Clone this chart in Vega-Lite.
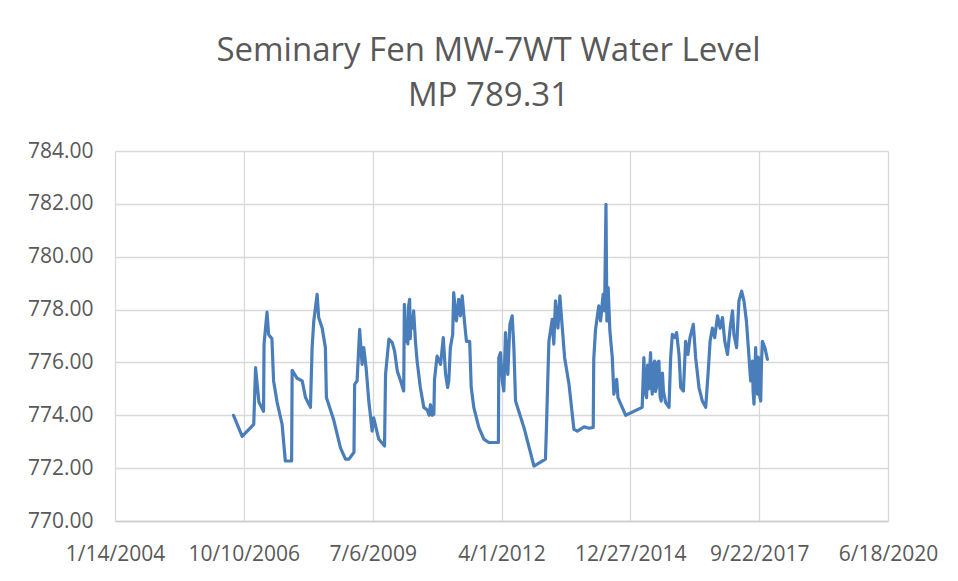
{
  "$schema": "https://vega.github.io/schema/vega-lite/v6.json",
  "width": 773,
  "height": 370,
  "autosize": "none",
  "padding": {"left": 115, "top": 151, "right": 70, "bottom": 60},
  "background": "white",
  "title": {
    "text": ["Seminary Fen MW-7WT Water Level", "MP 789.31"],
    "font": "Open Sans",
    "fontSize": 33,
    "fontWeight": "normal",
    "color": "#595959",
    "lineHeight": 45,
    "anchor": "middle",
    "dx": -13,
    "offset": 27
  },
  "config": {
    "view": {"stroke": null},
    "axis": {
      "labelFont": "Open Sans",
      "labelFontSize": 21,
      "labelColor": "#595959",
      "gridColor": "#d9d9d9",
      "gridWidth": 1.3,
      "ticks": false,
      "title": null
    }
  },
  "data": {
    "values": [
      {"date": "2006-07-22", "level": 774.0},
      {"date": "2006-09-27", "level": 773.2},
      {"date": "2006-12-26", "level": 773.66},
      {"date": "2007-01-09", "level": 775.8},
      {"date": "2007-02-04", "level": 774.5},
      {"date": "2007-03-12", "level": 774.15},
      {"date": "2007-03-16", "level": 776.7},
      {"date": "2007-04-08", "level": 777.9},
      {"date": "2007-04-20", "level": 777.06},
      {"date": "2007-05-16", "level": 776.9},
      {"date": "2007-05-29", "level": 775.3},
      {"date": "2007-06-25", "level": 774.5},
      {"date": "2007-08-03", "level": 773.66},
      {"date": "2007-08-28", "level": 772.27},
      {"date": "2007-10-16", "level": 772.27},
      {"date": "2007-10-20", "level": 775.7},
      {"date": "2007-11-28", "level": 775.4},
      {"date": "2008-01-06", "level": 775.3},
      {"date": "2008-02-01", "level": 774.67},
      {"date": "2008-03-10", "level": 774.3},
      {"date": "2008-03-23", "level": 776.56},
      {"date": "2008-04-05", "level": 777.57},
      {"date": "2008-05-01", "level": 778.58},
      {"date": "2008-05-13", "level": 777.7},
      {"date": "2008-06-09", "level": 777.3},
      {"date": "2008-07-04", "level": 776.56},
      {"date": "2008-07-12", "level": 774.67},
      {"date": "2008-09-08", "level": 773.8},
      {"date": "2008-10-29", "level": 772.77},
      {"date": "2008-12-07", "level": 772.34},
      {"date": "2009-01-03", "level": 772.34},
      {"date": "2009-02-11", "level": 772.6},
      {"date": "2009-02-16", "level": 775.17},
      {"date": "2009-03-07", "level": 775.3},
      {"date": "2009-03-27", "level": 777.25},
      {"date": "2009-04-15", "level": 775.93},
      {"date": "2009-04-28", "level": 776.56},
      {"date": "2009-05-16", "level": 775.8},
      {"date": "2009-06-06", "level": 774.54},
      {"date": "2009-07-02", "level": 773.4},
      {"date": "2009-07-14", "level": 773.9},
      {"date": "2009-08-22", "level": 773.1},
      {"date": "2009-10-06", "level": 772.84},
      {"date": "2009-10-14", "level": 775.55},
      {"date": "2009-11-09", "level": 776.88},
      {"date": "2009-12-05", "level": 776.75},
      {"date": "2009-12-23", "level": 776.43},
      {"date": "2010-01-13", "level": 775.68},
      {"date": "2010-02-08", "level": 775.3},
      {"date": "2010-03-04", "level": 774.92},
      {"date": "2010-03-09", "level": 778.2},
      {"date": "2010-03-21", "level": 776.8},
      {"date": "2010-03-30", "level": 777.13},
      {"date": "2010-04-05", "level": 776.7},
      {"date": "2010-04-10", "level": 778.1},
      {"date": "2010-04-19", "level": 778.39},
      {"date": "2010-04-24", "level": 776.9},
      {"date": "2010-04-29", "level": 777.6},
      {"date": "2010-05-08", "level": 777.3},
      {"date": "2010-05-20", "level": 777.95},
      {"date": "2010-06-03", "level": 776.8},
      {"date": "2010-06-16", "level": 776.05},
      {"date": "2010-07-11", "level": 775.05},
      {"date": "2010-08-07", "level": 774.3},
      {"date": "2010-09-03", "level": 774.2},
      {"date": "2010-09-17", "level": 774.0},
      {"date": "2010-09-28", "level": 774.4},
      {"date": "2010-10-11", "level": 774.0},
      {"date": "2010-10-24", "level": 774.04},
      {"date": "2010-10-29", "level": 775.36},
      {"date": "2010-11-18", "level": 776.24},
      {"date": "2010-12-15", "level": 775.93},
      {"date": "2011-01-05", "level": 776.94},
      {"date": "2011-01-23", "level": 775.55},
      {"date": "2011-02-08", "level": 775.05},
      {"date": "2011-02-17", "level": 775.3},
      {"date": "2011-03-01", "level": 776.56},
      {"date": "2011-03-19", "level": 777.06},
      {"date": "2011-03-27", "level": 778.64},
      {"date": "2011-04-17", "level": 777.57},
      {"date": "2011-05-05", "level": 778.39},
      {"date": "2011-05-18", "level": 777.76},
      {"date": "2011-06-01", "level": 778.52},
      {"date": "2011-06-18", "level": 777.57},
      {"date": "2011-07-04", "level": 776.8},
      {"date": "2011-07-29", "level": 776.8},
      {"date": "2011-08-10", "level": 775.05},
      {"date": "2011-08-30", "level": 774.3},
      {"date": "2011-10-08", "level": 773.54},
      {"date": "2011-11-16", "level": 773.1},
      {"date": "2011-12-24", "level": 772.97},
      {"date": "2012-03-08", "level": 772.97},
      {"date": "2012-03-11", "level": 776.18},
      {"date": "2012-03-24", "level": 776.37},
      {"date": "2012-04-07", "level": 775.3},
      {"date": "2012-04-19", "level": 774.92},
      {"date": "2012-05-02", "level": 777.13},
      {"date": "2012-05-20", "level": 775.55},
      {"date": "2012-06-05", "level": 777.44},
      {"date": "2012-06-23", "level": 777.76},
      {"date": "2012-07-06", "level": 776.56},
      {"date": "2012-07-19", "level": 774.54},
      {"date": "2012-09-22", "level": 773.54},
      {"date": "2012-12-09", "level": 772.08},
      {"date": "2013-03-08", "level": 772.34},
      {"date": "2013-03-16", "level": 773.54},
      {"date": "2013-03-26", "level": 775.3},
      {"date": "2013-04-04", "level": 776.8},
      {"date": "2013-04-30", "level": 777.63},
      {"date": "2013-05-12", "level": 776.69},
      {"date": "2013-05-25", "level": 778.33},
      {"date": "2013-06-13", "level": 777.3},
      {"date": "2013-06-28", "level": 778.52},
      {"date": "2013-07-17", "level": 777.3},
      {"date": "2013-08-04", "level": 776.18},
      {"date": "2013-09-07", "level": 775.17},
      {"date": "2013-10-15", "level": 773.47},
      {"date": "2013-11-11", "level": 773.4},
      {"date": "2014-01-02", "level": 773.56},
      {"date": "2014-02-10", "level": 773.51},
      {"date": "2014-03-14", "level": 773.54},
      {"date": "2014-03-18", "level": 776.12},
      {"date": "2014-04-01", "level": 777.25},
      {"date": "2014-04-26", "level": 778.14},
      {"date": "2014-05-10", "level": 777.57},
      {"date": "2014-05-30", "level": 778.58},
      {"date": "2014-06-10", "level": 777.95},
      {"date": "2014-06-21", "level": 781.98},
      {"date": "2014-06-28", "level": 777.57},
      {"date": "2014-07-08", "level": 778.83},
      {"date": "2014-07-21", "level": 777.2},
      {"date": "2014-08-09", "level": 776.18},
      {"date": "2014-08-21", "level": 774.8},
      {"date": "2014-09-12", "level": 775.36},
      {"date": "2014-09-22", "level": 774.67},
      {"date": "2014-11-21", "level": 774.0},
      {"date": "2015-03-29", "level": 774.3},
      {"date": "2015-04-11", "level": 776.18},
      {"date": "2015-04-20", "level": 774.9},
      {"date": "2015-05-02", "level": 774.67},
      {"date": "2015-05-10", "level": 775.9},
      {"date": "2015-05-19", "level": 775.0},
      {"date": "2015-06-02", "level": 776.37},
      {"date": "2015-06-09", "level": 775.2},
      {"date": "2015-06-15", "level": 774.8},
      {"date": "2015-06-24", "level": 775.9},
      {"date": "2015-07-03", "level": 776.05},
      {"date": "2015-07-10", "level": 774.9},
      {"date": "2015-07-18", "level": 775.05},
      {"date": "2015-07-27", "level": 776.0},
      {"date": "2015-08-06", "level": 776.05},
      {"date": "2015-08-15", "level": 774.7},
      {"date": "2015-08-24", "level": 774.54},
      {"date": "2015-09-02", "level": 775.6},
      {"date": "2015-09-10", "level": 774.92},
      {"date": "2015-09-27", "level": 774.48},
      {"date": "2015-10-23", "level": 774.3},
      {"date": "2015-11-05", "level": 776.18},
      {"date": "2015-11-18", "level": 777.06},
      {"date": "2015-12-06", "level": 776.94},
      {"date": "2015-12-21", "level": 777.13},
      {"date": "2016-01-09", "level": 776.3},
      {"date": "2016-01-22", "level": 775.05},
      {"date": "2016-02-12", "level": 774.92},
      {"date": "2016-02-29", "level": 776.8},
      {"date": "2016-03-18", "level": 776.3},
      {"date": "2016-04-03", "level": 776.94},
      {"date": "2016-04-29", "level": 777.44},
      {"date": "2016-05-17", "level": 776.18},
      {"date": "2016-06-12", "level": 775.05},
      {"date": "2016-07-08", "level": 774.54},
      {"date": "2016-08-03", "level": 774.3},
      {"date": "2016-08-21", "level": 775.55},
      {"date": "2016-09-06", "level": 776.8},
      {"date": "2016-09-24", "level": 777.3},
      {"date": "2016-10-12", "level": 776.94},
      {"date": "2016-11-03", "level": 777.76},
      {"date": "2016-11-23", "level": 777.3},
      {"date": "2016-12-11", "level": 777.7},
      {"date": "2016-12-29", "level": 776.8},
      {"date": "2017-01-19", "level": 776.3},
      {"date": "2017-02-09", "level": 777.3},
      {"date": "2017-02-27", "level": 777.95},
      {"date": "2017-03-10", "level": 777.06},
      {"date": "2017-03-31", "level": 776.56},
      {"date": "2017-04-18", "level": 778.33},
      {"date": "2017-05-09", "level": 778.7},
      {"date": "2017-05-27", "level": 778.33},
      {"date": "2017-06-15", "level": 777.57},
      {"date": "2017-06-30", "level": 776.56},
      {"date": "2017-07-18", "level": 775.3},
      {"date": "2017-08-01", "level": 776.05},
      {"date": "2017-08-06", "level": 774.9},
      {"date": "2017-08-13", "level": 774.42},
      {"date": "2017-08-20", "level": 775.7},
      {"date": "2017-08-26", "level": 776.56},
      {"date": "2017-09-02", "level": 775.0},
      {"date": "2017-09-09", "level": 774.8},
      {"date": "2017-09-15", "level": 776.2},
      {"date": "2017-09-21", "level": 775.8},
      {"date": "2017-09-27", "level": 774.7},
      {"date": "2017-10-04", "level": 774.54},
      {"date": "2017-10-10", "level": 776.0},
      {"date": "2017-10-17", "level": 776.8},
      {"date": "2017-11-05", "level": 776.56},
      {"date": "2017-11-25", "level": 776.12}
    ]
  },
  "mark": {"type": "line", "color": "#4a7ebb", "strokeWidth": 3.2, "strokeJoin": "round", "strokeCap": "round"},
  "encoding": {
    "x": {
      "field": "date",
      "type": "temporal",
      "scale": {
        "type": "utc",
        "domain": [
          {"year": 2004, "month": 1, "date": 14, "utc": true},
          {"year": 2020, "month": 6, "date": 18, "utc": true}
        ]
      },
      "axis": {
        "values": [
          {"year": 2004, "month": 1, "date": 14, "utc": true},
          {"year": 2006, "month": 10, "date": 10, "utc": true},
          {"year": 2009, "month": 7, "date": 6, "utc": true},
          {"year": 2012, "month": 4, "date": 1, "utc": true},
          {"year": 2014, "month": 12, "date": 27, "utc": true},
          {"year": 2017, "month": 9, "date": 22, "utc": true},
          {"year": 2020, "month": 6, "date": 18, "utc": true}
        ],
        "labelExpr": "utcFormat(datum.value, '%-m/%-d/%Y')",
        "labelPadding": 22,
        "labelFlush": false,
        "labelOverlap": false,
        "domainColor": "#cccccc",
        "domainWidth": 1.5
      }
    },
    "y": {
      "field": "level",
      "type": "quantitative",
      "scale": {"domain": [770, 784], "nice": false, "zero": false},
      "axis": {
        "values": [770, 772, 774, 776, 778, 780, 782, 784],
        "format": ".2f",
        "labelPadding": 22,
        "domain": false
      }
    }
  }
}
